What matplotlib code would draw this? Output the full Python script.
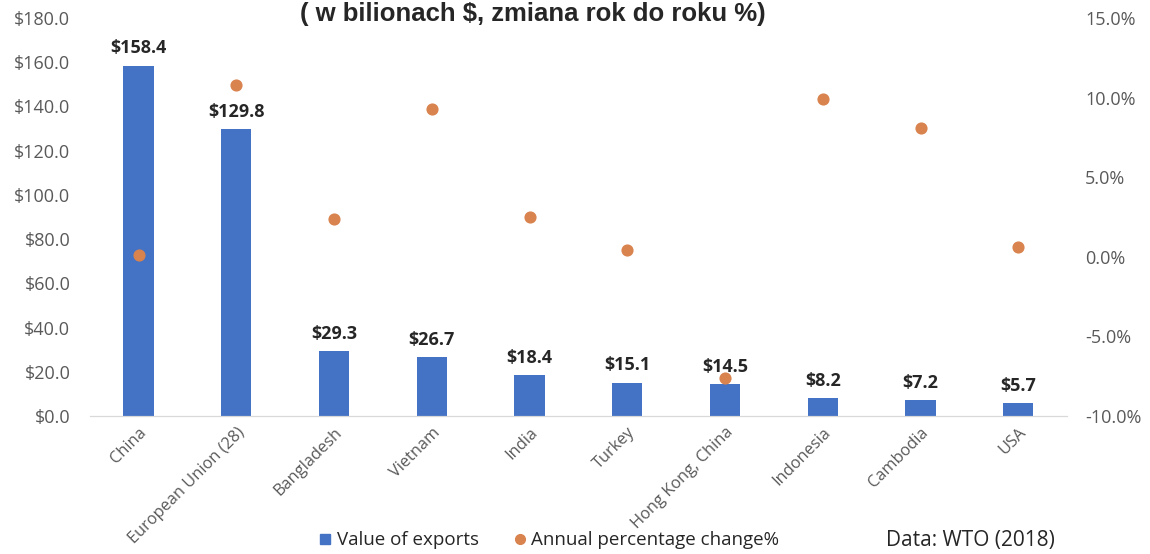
import matplotlib
matplotlib.use("Agg")
import matplotlib.pyplot as plt
from matplotlib.lines import Line2D

# dane (WTO 2018)
countries = ["China", "European Union (28)", "Bangladesh", "Vietnam", "India",
             "Turkey", "Hong Kong, China", "Indonesia", "Cambodia", "USA"]
exports = [158.4, 129.8, 29.3, 26.7, 18.4, 15.1, 14.5, 8.2, 7.2, 5.7]
pct_change = [0.1, 10.8, 2.4, 9.3, 2.5, 0.4, -7.6, 9.9, 8.1, 0.6]

left_ticks = [0, 20, 40, 60, 80, 100, 120, 140, 160, 180]
right_ticks = [-10, -5, 0, 5, 10, 15]

BLUE = "#4472C4"
ORANGE = "#D9834E"
TXT = "#595959"
FONT = "Open Sans"

fig = plt.figure(figsize=(11.5, 5.54), dpi=100)
ax = fig.add_axes([0.078, 0.249, 0.85, 0.7185])
ax2 = ax.twinx()

x = range(len(countries))
ax.bar(x, exports, width=0.31, color=BLUE, zorder=2)
ax2.scatter(x, pct_change, s=60, color=ORANGE, zorder=3)

for xi, v in zip(x, exports):
    ax.annotate(f"${v:.1f}", (xi, v), xytext=(0, 6), textcoords="offset points",
                ha="center", va="bottom", fontsize=13, fontweight="bold",
                family=FONT, color="#262626")

ax.set_xlim(-0.5, len(countries) - 0.5)
ax.set_ylim(0, 180)
ax.set_yticks(left_ticks)
ax.set_yticklabels([f"${t:.1f}" for t in left_ticks], family=FONT, fontsize=13, color=TXT)
ax2.set_ylim(-10, 15)
ax2.set_yticks(right_ticks)
ax2.set_yticklabels([f"{t:.1f}%" for t in right_ticks], family=FONT, fontsize=13, color=TXT)

ax.set_xticks(list(x))
ax.set_xticklabels(countries, rotation=45, ha="right", rotation_mode="anchor",
                   family=FONT, fontsize=11.8, color=TXT)

for a in (ax, ax2):
    for s in ("top", "left", "right"):
        a.spines[s].set_visible(False)
    a.spines["bottom"].set_color("#D9D9D9")
    a.tick_params(length=0)
ax.tick_params(axis="y", pad=14)
ax2.tick_params(axis="y", pad=13)
ax.tick_params(axis="x", pad=6)

fig.text(0.463, 0.962, "( w bilionach $, zmiana rok do roku %)", ha="center", va="baseline",
         fontsize=18.5, fontweight="bold", family="Liberation Sans", color="#262626")

handles = [Line2D([], [], marker="s", ls="none", color=BLUE, markersize=7),
           Line2D([], [], marker="o", ls="none", color=ORANGE, markersize=7)]
fig.legend(handles, ["Value of exports", "Annual percentage change%"],
           loc="center", bbox_to_anchor=(0.477, 0.025), ncol=2, frameon=False,
           prop={"family": FONT, "size": 13.5}, handletextpad=0.2, columnspacing=1.8,
           handlelength=0.8, labelcolor="#262626", borderpad=0.1)

fig.text(0.844, 0.025, "Data: WTO (2018)", ha="center", va="center",
         fontsize=15, family=FONT, color="#262626")

fig.savefig("out.png", dpi=100)
